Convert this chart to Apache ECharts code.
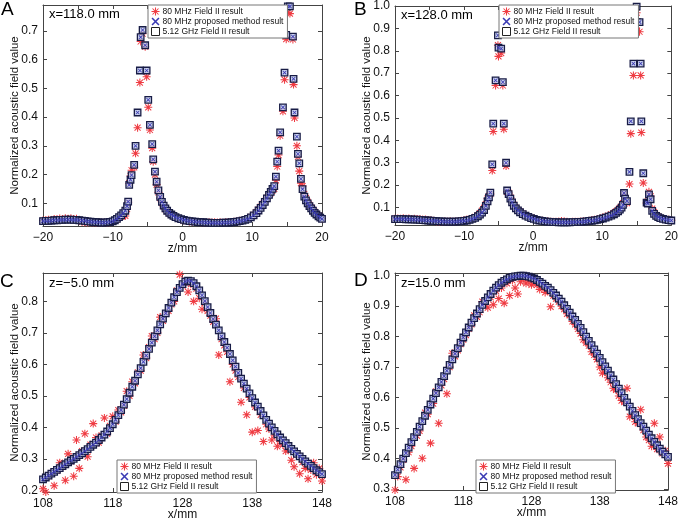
<!DOCTYPE html>
<html><head><meta charset="utf-8">
<script src="https://cdn.jsdelivr.net/npm/echarts@6/dist/echarts.min.js"></script>
<style>html,body{margin:0;padding:0;background:#fff}#c{width:681px;height:524px}</style>
</head><body><div id="c"></div>
<script>
// ---------- legend / series names ----------
const seriesNames = ['80 MHz Field II result', '80 MHz proposed method result', '5.12 GHz Field II result'];

// ---------- Panel A: x = 118.0 mm, lateral profile over z ----------
const aZ = [
-20,-19.6,-19.2,-18.8,-18.4,-18,-17.6,-17.2,-16.8,-16.4,
-16,-15.6,-15.2,-14.8,-14.4,-14,-13.6,-13.2,-12.8,-12.4,
-12,-11.6,-11.2,-10.8,-10.4,-10,-9.7,-9.4,-9.1,-8.8,
-8.5,-8.2,-7.95,-7.79,-7.64,-7.45,-7.3,-6.93,-6.73,-6.44,
-6.11,-6,-5.72,-5.35,-5.14,-4.91,-4.67,-4.34,-4.2,-3.95,
-3.71,-3.45,-3.2,-2.95,-2.7,-2.45,-2.2,-1.9,-1.6,-1.3,
-1,-0.6,-0.2,0.2,0.6,1,1.4,1.8,2.2,2.6,
3,3.4,3.8,4.2,4.6,5,5.4,5.8,6.2,6.6,
7,7.4,7.8,8.2,8.6,9,9.4,9.8,10.2,10.6,
10.9,11.2,11.5,11.8,12.1,12.4,12.65,12.9,13.15,13.39,
13.58,13.77,14,14.4,14.63,14.87,15.1,15.4,15.83,15.92,
16.06,16.4,16.55,16.74,16.98,17.21,17.46,17.7,17.95,18.2,
18.45,18.7,18.95,19.2,19.5,19.75,20];
// proposed method and 5.12 GHz results coincide on the picture
const aSim = [
.038,.039,.039,.040,.041,.041,.042,.042,.043,.043,
.043,.042,.042,.041,.040,.039,.037,.036,.035,.034,
.034,.033,.033,.034,.035,.037,.041,.046,.052,.058,
.066,.074,.090,.106,.164,.182,.198,.234,.300,.416,
.562,.678,.703,.650,.562,.460,.373,.306,.253,.210,
.175,.145,.122,.105,.092,.082,.074,.067,.061,.056,
.052,.048,.045,.042,.040,.038,.037,.036,.035,.034,
.034,.033,.033,.032,.032,.032,.032,.033,.033,.033,
.034,.035,.036,.038,.040,.042,.046,.051,.058,.066,
.075,.084,.094,.105,.117,.129,.140,.150,.160,.193,
.245,.283,.347,.434,.555,.686,.785,.785,.680,.533,
.416,.332,.272,.239,.185,.149,.123,.110,.100,.090,
.082,.074,.067,.061,.055,.050,.046];
const aRed = [
.040,.041,.043,.042,.045,.044,.047,.045,.048,.046,
.048,.045,.046,.042,.036,.034,.033,.034,.033,.032,
.033,.032,.033,.032,.034,.036,.040,.044,.050,.054,
.058,.056,.080,.104,.170,.195,.215,.225,.274,.363,
.520,.663,.690,.645,.540,.434,.355,.292,.245,.200,
.165,.138,.118,.103,.090,.080,.073,.066,.060,.055,
.051,.047,.044,.041,.039,.037,.036,.035,.035,.034,
.033,.033,.034,.033,.034,.033,.034,.032,.034,.035,
.035,.036,.037,.039,.041,.044,.048,.053,.060,.069,
.078,.088,.098,.108,.119,.128,.135,.145,.150,.180,
.228,.268,.335,.420,.530,.671,.764,.760,.670,.513,
.397,.300,.262,.212,.170,.160,.133,.118,.105,.094,
.085,.077,.070,.063,.057,.052,.047];

// ---------- Panel B: x = 128.0 mm ----------
const bZ = [
-20,-19.6,-19.2,-18.8,-18.4,-18,-17.6,-17.2,-16.8,-16.4,
-16,-15.6,-15.2,-14.8,-14.4,-14,-13.6,-13.2,-12.8,-12.4,
-12,-11.6,-11.2,-10.8,-10.4,-10,-9.6,-9.2,-8.8,-8.4,
-8,-7.7,-7.4,-7.1,-6.85,-6.6,-6.4,-6.2,-5.92,-5.78,
-5.44,-5.1,-5.02,-4.63,-4.39,-4.25,-3.92,-3.77,-3.55,-3.3,
-3.05,-2.8,-2.5,-2.2,-1.9,-1.5,-1.1,-0.7,-0.3,0.1,
0.5,0.9,1.3,1.7,2.1,2.5,2.9,3.3,3.7,4.1,
4.5,4.9,5.3,5.7,6.1,6.5,6.9,7.3,7.7,8.1,
8.5,8.9,9.3,9.7,10.1,10.5,10.9,11.3,11.7,12,
12.3,12.55,12.8,13,13.15,13.3,13.58,13.94,14.13,14.51,
14.98,15.02,15.4,15.56,15.66,15.94,16.42,16.6,16.76,17,
17.23,17.5,17.8,18.1,18.4,18.8,19.2,19.6,20];
const bSim = [
.048,.048,.048,.048,.047,.047,.047,.046,.046,.045,
.044,.043,.042,.041,.040,.039,.038,.038,.037,.037,
.037,.037,.037,.038,.039,.040,.042,.045,.049,.054,
.061,.068,.077,.089,.107,.128,.145,.167,.293,.475,
.668,.869,.814,.810,.660,.475,.300,.176,.160,.140,
.123,.108,.096,.087,.079,.071,.064,.058,.053,.049,
.045,.042,.040,.038,.037,.036,.035,.035,.034,.034,
.034,.034,.034,.035,.035,.036,.036,.037,.038,.040,
.041,.043,.045,.048,.051,.055,.059,.064,.070,.076,
.083,.091,.100,.112,.165,.140,.129,.259,.485,.743,
.997,.928,.928,.743,.485,.253,.122,.118,.159,.137,
.085,.072,.063,.057,.053,.049,.046,.044,.042];
const bRed = [
.050,.051,.050,.052,.050,.051,.049,.050,.048,.049,
.046,.047,.044,.043,.041,.038,.037,.036,.038,.036,
.039,.036,.038,.040,.041,.043,.045,.049,.053,.058,
.066,.075,.086,.098,.115,.140,.152,.160,.265,.440,
.645,.825,.775,.790,.645,.450,.285,.170,.165,.145,
.125,.112,.099,.089,.082,.073,.066,.060,.055,.050,
.047,.044,.041,.040,.038,.037,.037,.036,.036,.040,
.038,.036,.035,.036,.037,.037,.038,.039,.040,.041,
.044,.046,.048,.051,.055,.059,.064,.070,.076,.083,
.090,.098,.105,.120,.160,.130,.120,.205,.430,.690,
.970,.890,.885,.690,.435,.210,.120,.128,.170,.150,
.095,.080,.066,.059,.054,.050,.047,.045,.043];

// ---------- Panels C and D: axial profiles over x ----------
const cdX = [
108,108.4,108.8,109.2,109.6,110,110.4,110.8,111.2,111.6,
112,112.4,112.8,113.2,113.6,114,114.4,114.8,115.2,115.6,
116,116.4,116.8,117.2,117.6,118,118.4,118.8,119.2,119.6,
120,120.4,120.8,121.2,121.6,122,122.4,122.8,123.2,123.6,
124,124.4,124.8,125.2,125.6,126,126.4,126.8,127.2,127.6,
128,128.4,128.8,129.2,129.6,130,130.4,130.8,131.2,131.6,
132,132.4,132.8,133.2,133.6,134,134.4,134.8,135.2,135.6,
136,136.4,136.8,137.2,137.6,138,138.4,138.8,139.2,139.6,
140,140.4,140.8,141.2,141.6,142,142.4,142.8,143.2,143.6,
144,144.4,144.8,145.2,145.6,146,146.4,146.8,147.2,147.6,
148];
// Panel C: z = -5.0 mm
const cSim = [
.235,.241,.247,.253,.259,.265,.271,.277,.283,.289,
.295,.300,.306,.312,.318,.325,.331,.338,.345,.352,
.360,.368,.377,.387,.398,.410,.424,.439,.455,.472,
.490,.510,.529,.548,.568,.588,.608,.628,.649,.669,
.689,.708,.727,.745,.762,.779,.796,.813,.829,.843,
.855,.863,.866,.864,.858,.848,.835,.819,.801,.782,
.763,.744,.726,.708,.689,.671,.653,.633,.613,.593,
.573,.555,.539,.523,.508,.493,.479,.466,.452,.438,
.424,.412,.400,.389,.378,.368,.359,.350,.341,.332,
.324,.316,.308,.300,.292,.285,.278,.271,.264,.258,
.252];
const cRed = [
.205,.195,.245,.255,.215,.262,.288,.275,.232,.316,
.292,.245,.360,.270,.325,.380,.307,.345,.412,.368,
.352,.375,.430,.380,.405,.435,.418,.455,.448,.468,
.515,.500,.545,.540,.575,.580,.630,.620,.655,.690,
.680,.700,.750,.738,.760,.770,.790,.800,.835,.885,
.850,.860,.830,.855,.800,.840,.810,.775,.795,.770,
.755,.735,.745,.630,.680,.660,.640,.545,.600,.580,
.560,.480,.525,.440,.495,.385,.465,.390,.440,.355,
.410,.395,.360,.375,.340,.355,.345,.325,.330,.296,
.275,.318,.253,.290,.270,.237,.265,.288,.250,.270,
.230];
// Panel D: z = 15.0 mm
const dSim = [
.345,.363,.381,.399,.417,.435,.453,.470,.487,.504,
.522,.540,.559,.577,.596,.614,.633,.651,.670,.688,
.707,.725,.744,.762,.780,.797,.814,.830,.846,.861,
.876,.890,.904,.917,.929,.940,.951,.961,.969,.977,
.983,.988,.993,.996,.998,.999,1.000,1.000,.999,.997,
.994,.991,.986,.980,.974,.967,.961,.953,.944,.935,
.925,.915,.903,.891,.879,.866,.855,.842,.829,.815,
.800,.786,.772,.758,.744,.730,.716,.702,.688,.673,
.659,.644,.629,.614,.599,.584,.570,.556,.542,.529,
.516,.504,.491,.478,.466,.454,.443,.432,.422,.413,
.405];
const dRed = [
.296,.340,.370,.395,.330,.420,.440,.367,.475,.490,
.400,.550,.545,.450,.580,.620,.515,.640,.660,.612,
.700,.745,.735,.755,.775,.790,.805,.825,.840,.870,
.865,.880,.915,.905,.895,.930,.905,.950,.925,.960,
.910,.975,.935,.985,.960,.940,.980,.990,.975,.985,
.970,.980,.970,.955,.965,.945,.950,.898,.935,.925,
.915,.900,.890,.875,.870,.850,.840,.825,.810,.790,
.780,.770,.750,.740,.725,.700,.680,.690,.665,.650,
.630,.625,.605,.590,.585,.630,.537,.545,.520,.515,
.560,.493,.470,.460,.440,.515,.430,.470,.416,.425,
.383];

// ---------- tick labels ----------
const zTickLabels = [-20, -10, 0, 10, 20];
const zTickMarks = [-20, -15, -10, -5, 0, 5, 10, 15, 20];
const xTickLabels = [108, 118, 128, 138, 148];
const aYTicks = [0.1, 0.2, 0.3, 0.4, 0.5, 0.6, 0.7];
const bYTicks = [0.1, 0.2, 0.3, 0.4, 0.5, 0.6, 0.7, 0.8, 0.9, 1.0];
const cYTicks = [0.2, 0.3, 0.4, 0.5, 0.6, 0.7, 0.8];
const dYTicks = [0.3, 0.4, 0.5, 0.6, 0.7, 0.8, 0.9, 1.0];

// ---------- styling ----------
const FONT = '"Liberation Sans", Arial, Helvetica, sans-serif';
const RED = '#ef3b42', BLUE = '#3a3ab4', DARK = '#181c46', AXIS = '#444';
const asterisk = 'path://M4.35,0h1.3v10h-1.3z M0,4.35h10v1.3h-10z M0.8,1.7L1.7,0.8L9.2,8.3L8.3,9.2z M8.3,0.8L9.2,1.7L1.7,9.2L0.8,8.3z';
const cross = 'path://M0,1.4L1.4,0L10,8.6L8.6,10z M8.6,0L10,1.4L1.4,10L0,8.6z';

const panels = [
  {x: aZ, sim: aSim, red: aRed, grid: {left: 43, top: 5, width: 279, height: 221},
   xr: [-20, 20], xl: zTickLabels, xt: zTickMarks, yr: [0.021, 0.79], yl: aYTicks, xname: 'z/mm',
   lg: [148, 5], note: 'x=118.0 mm', np: [49, 8], letter: 'A', lp: [1, 0]},
  {x: bZ, sim: bSim, red: bRed, grid: {left: 395, top: 6, width: 279, height: 219},
   xr: [-20, 20], xl: zTickLabels, xt: zTickMarks, yr: [0.022, 1.0], yl: bYTicks, xname: 'z/mm',
   lg: [499, 5], note: 'x=128.0 mm', np: [401, 9], letter: 'B', lp: [354, 0]},
  {x: cdX, sim: cSim, red: cRed, grid: {left: 43, top: 273, width: 279, height: 219},
   xr: [108, 148], xl: xTickLabels, xt: xTickLabels, yr: [0.195, 0.89], yl: cYTicks, xname: 'x/mm',
   lg: [117, 460], note: 'z=\u22125.0 mm', np: [49, 277], letter: 'C', lp: [0, 272]},
  {x: cdX, sim: dSim, red: dRed, grid: {left: 395, top: 273, width: 278, height: 217},
   xr: [108, 148], xl: xTickLabels, xt: xTickLabels, yr: [0.296, 1.009], yl: dYTicks, xname: 'x/mm',
   lg: [476, 460], note: 'z=15.0 mm', np: [401, 277], letter: 'D', lp: [354, 271]}
];

const grid = [], xAxis = [], yAxis = [], series = [], legend = [], graphic = [];
const lineStyle = {color: AXIS, width: 1};
const fmtX = v => String(v).replace('-', '\u2212');
panels.forEach((p, i) => {
  grid.push(p.grid);
  xAxis.push({gridIndex: i, type: 'value', min: p.xr[0], max: p.xr[1], position: 'bottom',
    name: p.xname, nameLocation: 'middle', nameGap: 17, nameMoveOverlap: false,
    nameTextStyle: {fontSize: 12, color: '#111', fontFamily: FONT},
    axisLine: {show: true, onZero: false, lineStyle},
    axisTick: {show: true, inside: true, length: 4, lineStyle, customValues: p.xt},
    axisLabel: {customValues: p.xl, formatter: fmtX, fontSize: 12, color: '#111', fontFamily: FONT, margin: 6},
    splitLine: {show: false}});
  xAxis.push({gridIndex: i, type: 'value', min: p.xr[0], max: p.xr[1], position: 'top',
    axisLine: {show: true, onZero: false, lineStyle},
    axisTick: {show: true, inside: true, length: 4, lineStyle, customValues: p.xt},
    axisLabel: {show: false}, splitLine: {show: false}});
  yAxis.push({gridIndex: i, type: 'value', min: p.yr[0], max: p.yr[1], position: 'left',
    name: 'Normalized acoustic field value', nameLocation: 'middle', nameGap: 22, nameMoveOverlap: false,
    nameTextStyle: {fontSize: 11.5, color: '#111', fontFamily: FONT},
    axisLine: {show: true, onZero: false, lineStyle},
    axisTick: {show: true, inside: true, length: 4, lineStyle, customValues: p.yl},
    axisLabel: {customValues: p.yl, formatter: v => v.toFixed(1), fontSize: 12, color: '#111', fontFamily: FONT, margin: 5},
    splitLine: {show: false}});
  yAxis.push({gridIndex: i, type: 'value', min: p.yr[0], max: p.yr[1], position: 'right',
    axisLine: {show: true, onZero: false, lineStyle},
    axisTick: {show: true, inside: true, length: 4, lineStyle, customValues: p.yl},
    axisLabel: {show: false}, splitLine: {show: false}});
  const xi = 2 * i, yi = 2 * i;
  series.push({type: 'scatter', name: seriesNames[0], xAxisIndex: xi, yAxisIndex: yi,
    symbol: asterisk, symbolSize: 8, itemStyle: {color: RED, opacity: 1},
    data: p.x.map((v, k) => [v, p.red[k]]), z: 2});
  series.push({type: 'scatter', name: seriesNames[2], xAxisIndex: xi, yAxisIndex: yi,
    symbol: 'rect', symbolSize: 6.5, itemStyle: {color: 'rgba(196,206,234,0.85)', borderColor: DARK, borderWidth: 1.3, opacity: 1},
    data: p.x.map((v, k) => [v, p.sim[k]]), z: 3});
  series.push({type: 'scatter', name: seriesNames[1], xAxisIndex: xi, yAxisIndex: yi,
    symbol: cross, symbolSize: 4.2, itemStyle: {color: BLUE, opacity: 1},
    data: p.x.map((v, k) => [v, p.sim[k]]), z: 4});
  legend.push({left: p.lg[0], top: p.lg[1], orient: 'vertical', itemWidth: 8, itemHeight: 8, itemGap: 1,
    padding: [2, 4, 2, 3], backgroundColor: '#fff', borderColor: '#777', borderWidth: 1, borderRadius: 0,
    selectedMode: false, z: 10,
    textStyle: {fontSize: 8.5, color: '#111', fontFamily: FONT, padding: [0, 0, 0, -2]},
    data: [
      {name: seriesNames[0], icon: asterisk, itemStyle: {color: RED}},
      {name: seriesNames[1], icon: cross, itemStyle: {color: BLUE}},
      {name: seriesNames[2], icon: 'rect', itemStyle: {color: '#fff', borderColor: '#222', borderWidth: 1}}
    ]});
  graphic.push({type: 'text', left: p.lp[0], top: p.lp[1], z: 20,
    style: {text: p.letter, fontSize: 19, fill: '#000', fontFamily: FONT}});
  graphic.push({type: 'text', left: p.np[0], top: p.np[1], z: 20,
    style: {text: p.note, fontSize: 13, fill: '#000', fontFamily: FONT}});
});

const chart = echarts.init(document.getElementById('c'), null, {renderer: 'canvas'});
chart.setOption({animation: false, backgroundColor: '#fff', grid, xAxis, yAxis, series, legend, graphic});
</script></body></html>
